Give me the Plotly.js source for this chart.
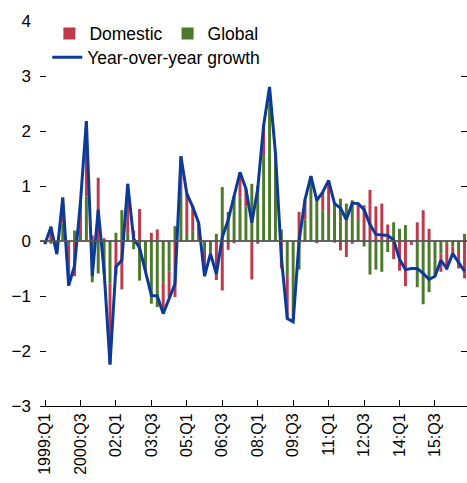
<!DOCTYPE html>
<html>
<head>
<meta charset="utf-8">
<script src="https://cdn.plot.ly/plotly-3.0.1.min.js"></script>
<style>html,body{margin:0;padding:0;background:#fff;}#chart{width:467px;height:483px;}</style>
</head>
<body>
<div id="chart"></div>
<script>
const quarters = [
 "1999Q1","1999Q2","1999Q3","1999Q4","2000Q1","2000Q2","2000Q3","2000Q4",
 "2001Q1","2001Q2","2001Q3","2001Q4","2002Q1","2002Q2","2002Q3","2002Q4",
 "2003Q1","2003Q2","2003Q3","2003Q4","2004Q1","2004Q2","2004Q3","2004Q4",
 "2005Q1","2005Q2","2005Q3","2005Q4","2006Q1","2006Q2","2006Q3","2006Q4",
 "2007Q1","2007Q2","2007Q3","2007Q4","2008Q1","2008Q2","2008Q3","2008Q4",
 "2009Q1","2009Q2","2009Q3","2009Q4","2010Q1","2010Q2","2010Q3","2010Q4",
 "2011Q1","2011Q2","2011Q3","2011Q4","2012Q1","2012Q2","2012Q3","2012Q4",
 "2013Q1","2013Q2","2013Q3","2013Q4","2014Q1","2014Q2","2014Q3","2014Q4",
 "2015Q1","2015Q2","2015Q3","2015Q4","2016Q1","2016Q2","2016Q3","2016Q4"
];
const tickQuarters = ["1999Q1","2000Q3","2002Q1","2003Q3","2005Q1","2006Q3","2008Q1","2009Q3","2011Q1","2012Q3","2014Q1","2015Q3"];
const tickLabels = ["1999:Q1","2000:Q3","02:Q1","03:Q3","05:Q1","06:Q3","08:Q1","09:Q3","11:Q1","12:Q3","14:Q1","15:Q3"];

const domestic = [
 -0.03, 0.27, -0.12, 0.47, -0.75, -0.64, 0.60, 1.35,
 0.10, 1.15, 0.05, -1.47, -0.62, -0.88, 0.91, 0.19,
 0.58, -0.05, 0.15, 0.21, -0.55, -0.46, -1.02, 0.62,
 0.73, 0.46, 0.28, -0.44, -0.03, -0.71, -0.90, -0.16,
 -0.04, 0.46, 0.32, -0.70, -0.05, 0.55, 0.30, 0.15,
 -0.50, -0.79, -0.15, 0.53, 0.36, 0.14, -0.04, 0.33,
 0.61, -0.03, -0.17, -0.29, -0.05, 0.30, 0.65, 0.93,
 0.63, 0.68, 0.30, -0.33, -0.54, -0.82, -0.05, 0.34,
 0.56, 0.22, -0.02, -0.33, -0.48, -0.14, -0.30, -0.68
];
const global = [
 -0.03, -0.05, -0.10, 0.32, -0.06, 0.19, 0.11, 0.81,
 -0.75, -0.59, -0.60, -0.77, 0.15, 0.56, 0.13, -0.15,
 -0.72, -0.50, -1.14, -1.20, -0.76, -0.56, 0.27, 0.92,
 0.13, 0.18, 0.05, -0.20, -0.20, 0.13, 0.98, 0.53,
 0.83, 0.79, 0.63, 1.04, 1.00, 1.56, 2.50, 1.45,
 0.21, -0.62, -1.30, -0.52, 0.39, 1.04, 0.78, 0.56,
 0.49, 0.70, 0.77, 0.68, 0.74, 0.38, -0.10, -0.61,
 -0.52, -0.56, -0.20, 0.34, 0.22, 0.29, -0.02, -0.84,
 -1.15, -0.93, -0.62, -0.23, -0.05, -0.10, -0.20, 0.13
];
const growth = [
 -0.05, 0.25, -0.24, 0.79, -0.81, -0.45, 0.71, 2.18,
 -0.64, 0.57, -0.55, -2.25, -0.47, -0.35, 1.04, 0.04,
 -0.12, -0.55, -0.99, -1.00, -1.32, -1.05, -0.78, 1.54,
 0.86, 0.62, 0.33, -0.64, -0.23, -0.60, 0.07, 0.38,
 0.80, 1.25, 0.95, 0.33, 0.95, 2.10, 2.80, 1.60,
 -0.30, -1.41, -1.47, 0.00, 0.75, 1.18, 0.74, 0.89,
 1.10, 0.68, 0.60, 0.39, 0.69, 0.68, 0.57, 0.30,
 0.12, 0.11, 0.10, 0.02, -0.33, -0.52, -0.50, -0.50,
 -0.59, -0.70, -0.64, -0.35, -0.50, -0.23, -0.38, -0.55
];

const FONT = '"Liberation Sans", Arial, sans-serif';
const RED = '#C0394B', GREEN = '#4A7A2A', BLUE = '#0B3A9A';

const traces = [
  {type:'bar', name:'Global', x:quarters, y:global, marker:{color:GREEN}, legend:'legend', legendrank:2},
  {type:'bar', name:'Domestic', x:quarters, y:domestic, marker:{color:RED}, legend:'legend', legendrank:1},
  {type:'scatter', mode:'lines', name:'Year-over-year growth', x:quarters, y:growth,
   line:{color:BLUE, width:3}, legend:'legend2'}
];

const layout = {
  width:467, height:483,
  margin:{l:40, r:0, t:20.7, b:77.3},
  paper_bgcolor:'#fff', plot_bgcolor:'#fff',
  font:{family:FONT, size:16, color:'#000'},
  barmode:'relative', bargap:0.5,
  showlegend:true,
  legend:{orientation:'h', x:0.022, y:1.014, xanchor:'left', yanchor:'top',
          font:{family:FONT, size:17.5, color:'#000'}, bgcolor:'rgba(0,0,0,0)', itemwidth:30, traceorder:'normal'},
  legend2:{orientation:'h', x:0.017, y:0.952, xanchor:'left', yanchor:'top',
          font:{family:FONT, size:17.5, color:'#000'}, bgcolor:'rgba(0,0,0,0)', itemwidth:30},
  xaxis:{type:'category', range:[-0.85, 71.42], tickmode:'array', tickvals:tickQuarters, ticktext:tickLabels,
         tickangle:-90, ticks:'inside', ticklen:6, tickcolor:'#000', tickwidth:1,
         showline:true, linecolor:'#000', linewidth:1, showgrid:false, zeroline:false,
         tickfont:{family:FONT, size:16, color:'#000'}},
  yaxis:{range:[-3,4], tickvals:[-3,-2,-1,0,1,2,3,4], ticks:'inside', ticklen:6, tickcolor:'#000', tickwidth:1,
         mirror:'ticks', showline:false, showgrid:false, zeroline:false, ticklabelstandoff:8,
         tickfont:{family:FONT, size:17, color:'#000'}},
  shapes:[{type:'line', xref:'paper', x0:0, x1:1, yref:'y', y0:0, y1:0, layer:'above',
           line:{color:'rgba(85,85,85,0.9)', width:2}}]
};

Plotly.newPlot('chart', traces, layout, {displayModeBar:false, staticPlot:true});
</script>
</body>
</html>
